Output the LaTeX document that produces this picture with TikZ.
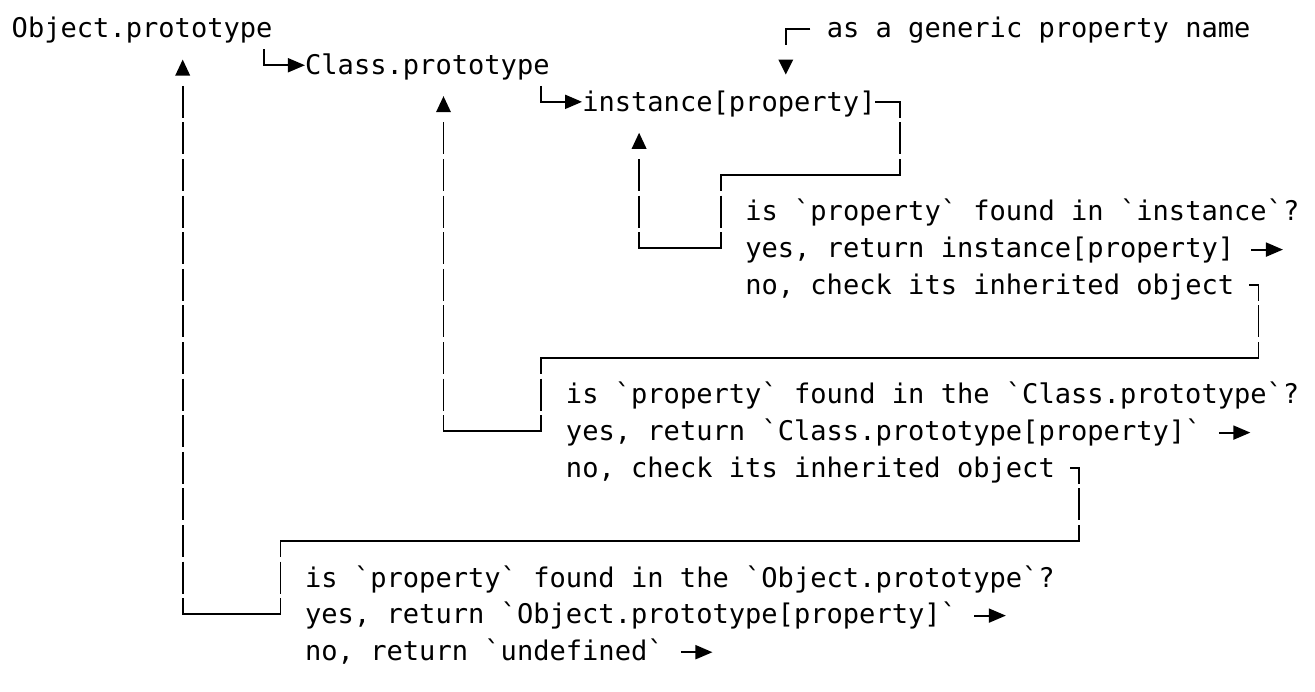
\documentclass[tikz,border=0pt]{standalone}
\usepackage{fontspec}
\setmonofont{DejaVu Sans Mono}
\usetikzlibrary{arrows.meta}
\def\XO{11.55}\def\CW{16.3}\def\BO{38}\def\RP{36.6}
\newcommand\Xc[1]{(\XO+\CW*(#1+0.5))}
\newcommand\Xl[1]{(\XO+\CW*(#1))}
\newcommand\Yb[1]{(\BO+\RP*(#1))}
\newcommand\Yh[1]{(\BO+\RP*(#1)-9.35)}
\newcommand\Yt[1]{(\BO+\RP*(#1)-25.35)}
\newcommand\Yd[1]{(\BO+\RP*(#1)+6.65)}
\newcommand\UpTri[2]{\fill[black] ({\Xc{#1}-7.5},{\Yb{#2}+1}) -- ({\Xc{#1}+7.5},{\Yb{#2}+1}) -- ({\Xc{#1}},{\Yb{#2}-15}) -- cycle;}
\newcommand\DnTri[2]{\fill[black] ({\Xc{#1}-7.5},{\Yb{#2}-15}) -- ({\Xc{#1}+7.5},{\Yb{#2}-15}) -- ({\Xc{#1}},{\Yb{#2}}) -- cycle;}
\begin{document}
\begin{tikzpicture}[x=1pt,y=-1pt,
  txt/.style={anchor=base west, inner sep=0pt, font=\ttfamily\fontsize{27.07pt}{32pt}\selectfont},
  box/.style={line width=1.9pt},
  hl/.style={box, line cap=rect},
  vl/.style={box, dash pattern=on 32pt off 4.6pt},
  vlc/.style={vl, dash phase=16pt},
  arr/.style={line width=1.9pt, -{Triangle[length=17pt,width=14pt]}}]
\useasboundingbox (0,0) rectangle (1315,692);

% text nodes
\node[txt] (obj)  at ({\Xl{0}},{\Yb{0}}) {Object.prototype};
\node[txt] (gen)  at ({\Xl{50}},{\Yb{0}}) {as a generic property name};
\node[txt] (cls)  at ({\Xl{18}},{\Yb{1}}) {Class.prototype};
\node[txt] (inst) at ({\Xl{35}},{\Yb{2}}) {instance[property]};
\node[txt] (q1) at ({\Xl{45}},{\Yb{5}}) {is `property` found in `instance`?};
\node[txt] (y1) at ({\Xl{45}},{\Yb{6}}) {yes, return instance[property]};
\node[txt] (n1) at ({\Xl{45}},{\Yb{7}}) {no, check its inherited object};
\node[txt] (q2) at ({\Xl{34}},{\Yb{10}}) {is `property` found in the `Class.prototype`?};
\node[txt] (y2) at ({\Xl{34}},{\Yb{11}}) {yes, return `Class.prototype[property]`};
\node[txt] (n2) at ({\Xl{34}},{\Yb{12}}) {no, check its inherited object};
\node[txt] (q3) at ({\Xl{18}},{\Yb{15}}) {is `property` found in the `Object.prototype`?};
\node[txt] (y3) at ({\Xl{18}},{\Yb{16}}) {yes, return `Object.prototype[property]`};
\node[txt] (n3) at ({\Xl{18}},{\Yb{17}}) {no, return `undefined`};

% path back to Object.prototype
\coordinate (p1a) at ({\Xl{65}},{\Yh{12}});
\coordinate (p1b) at ({\Xc{65}},{\Yh{12}});
\coordinate (p1c) at ({\Xc{65}},{\Yh{14}});
\coordinate (p1d) at ({\Xc{16}},{\Yh{14}});
\coordinate (p1e) at ({\Xc{16}},{\Yh{16}});
\coordinate (p1f) at ({\Xc{10}},{\Yh{16}});
\coordinate (p1g) at ({\Xc{10}},{\Yt{2}});
\draw[hl] (p1a) -- (p1b);
\draw[vlc] (p1b) -- (p1c);
\draw[hl] (p1c) -- (p1d);
\draw[vlc] (p1d) -- (p1e);
\draw[hl] (p1e) -- (p1f);
\draw[vl] (p1g) -- (p1f);
\UpTri{10}{1}

% path back to Class.prototype
\coordinate (p2a) at ({\Xl{76}},{\Yh{7}});
\coordinate (p2b) at ({\Xc{76}},{\Yh{7}});
\coordinate (p2c) at ({\Xc{76}},{\Yh{9}});
\coordinate (p2d) at ({\Xc{32}},{\Yh{9}});
\coordinate (p2e) at ({\Xc{32}},{\Yh{11}});
\coordinate (p2f) at ({\Xc{26}},{\Yh{11}});
\coordinate (p2g) at ({\Xc{26}},{\Yt{3}});
\draw[hl] (p2a) -- (p2b);
\draw[vlc] (p2b) -- (p2c);
\draw[hl] (p2c) -- (p2d);
\draw[vlc] (p2d) -- (p2e);
\draw[hl] (p2e) -- (p2f);
\draw[vl] (p2g) -- (p2f);
\UpTri{26}{2}

% path back to instance
\coordinate (p3a) at ({\Xl{53}},{\Yh{2}});
\coordinate (p3b) at ({\Xc{54}},{\Yh{2}});
\coordinate (p3c) at ({\Xc{54}},{\Yh{4}});
\coordinate (p3d) at ({\Xc{43}},{\Yh{4}});
\coordinate (p3e) at ({\Xc{43}},{\Yh{6}});
\coordinate (p3f) at ({\Xc{38}},{\Yh{6}});
\coordinate (p3g) at ({\Xc{38}},{\Yt{4}});
\draw[hl] (p3a) -- (p3b);
\draw[vlc] (p3b) -- (p3c);
\draw[hl] (p3c) -- (p3d);
\draw[vlc] (p3d) -- (p3e);
\draw[hl] (p3e) -- (p3f);
\draw[vl] (p3g) -- (p3f);
\UpTri{38}{3}

% generic property name pointer
\coordinate (p4a) at ({\Xl{49}},{\Yh{0}});
\coordinate (p4b) at ({\Xc{47}},{\Yh{0}});
\coordinate (p4c) at ({\Xc{47}},{\Yd{0}});
\draw[box] (p4a) -- (p4b) -- (p4c);
\DnTri{47}{1}

% Object.prototype -> Class.prototype
\coordinate (p5a) at ({\Xc{15}},{\Yt{1}});
\coordinate (p5b) at ({\Xc{15}},{\Yh{1}});
\coordinate (p5c) at ({\Xl{16}+32.6},{\Yh{1}});
\draw[arr] (p5a) -- (p5b) -- (p5c);

% Class.prototype -> instance
\coordinate (p6a) at ({\Xc{32}},{\Yt{2}});
\coordinate (p6b) at ({\Xc{32}},{\Yh{2}});
\coordinate (p6c) at ({\Xl{33}+32.6},{\Yh{2}});
\draw[arr] (p6a) -- (p6b) -- (p6c);

% result arrows
\coordinate (e1s) at ({\Xl{76}+1},{\Yb{6}-8});
\coordinate (e1t) at ({\Xl{76}+32.6},{\Yb{6}-8});
\coordinate (e2s) at ({\Xl{74}+1},{\Yb{11}-8});
\coordinate (e2t) at ({\Xl{74}+32.6},{\Yb{11}-8});
\coordinate (e3s) at ({\Xl{59}+1},{\Yb{16}-8});
\coordinate (e3t) at ({\Xl{59}+32.6},{\Yb{16}-8});
\coordinate (e4s) at ({\Xl{41}+1},{\Yb{17}-8});
\coordinate (e4t) at ({\Xl{41}+32.6},{\Yb{17}-8});
\draw[arr] (e1s) -- (e1t);
\draw[arr] (e2s) -- (e2t);
\draw[arr] (e3s) -- (e3t);
\draw[arr] (e4s) -- (e4t);
\end{tikzpicture}
\end{document}
